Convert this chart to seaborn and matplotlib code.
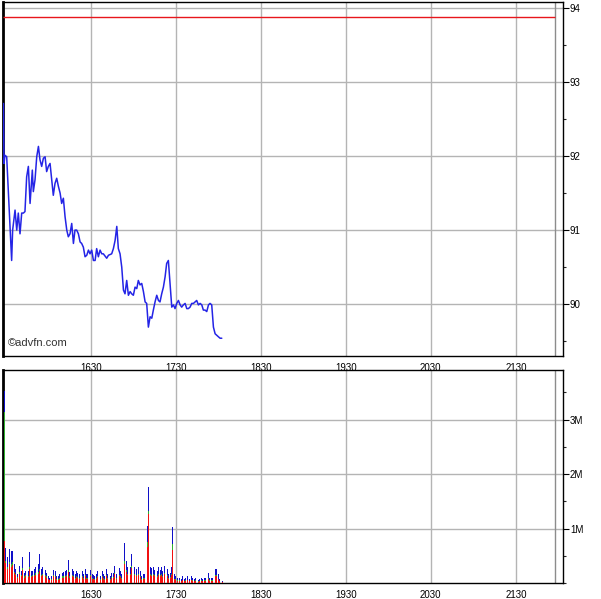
import matplotlib
matplotlib.use("Agg")
import matplotlib.pyplot as plt
import seaborn as sns
from matplotlib.ticker import FixedLocator, MultipleLocator, FuncFormatter

# price trace (minutes after midnight, price)
price_times = [928.4, 928.8, 929.5, 930.7, 931.9, 934.2, 934.9, 936.6, 937.8, 938.9,
               940.1, 941.3, 942.5, 943.6, 944.8, 946.0, 947.2, 948.8, 949.5, 950.7,
               951.9, 953.1, 954.2, 955.4, 956.6, 957.8, 958.9, 960.1, 961.3, 962.5,
               963.6, 964.8, 966.0, 967.2, 968.4, 969.5, 970.7, 971.9, 973.1, 974.2,
               975.4, 976.6, 977.8, 978.9, 980.1, 981.3, 982.5, 983.6, 984.8, 986.0,
               987.2, 988.4, 989.5, 990.7, 991.9, 993.1, 994.2, 995.4, 996.6, 997.8,
               998.9, 1001.3, 1002.5, 1004.8, 1006.0, 1007.2, 1008.4, 1009.5, 1010.7, 1011.9,
               1013.1, 1014.2, 1015.4, 1016.6, 1017.8, 1018.9, 1020.1, 1021.3, 1022.5, 1023.6,
               1024.8, 1026.0, 1027.2, 1028.4, 1029.5, 1030.7, 1031.9, 1033.1, 1034.2, 1035.4,
               1036.6, 1037.8, 1038.9, 1040.1, 1041.3, 1042.5, 1043.6, 1044.8, 1046.0, 1047.2,
               1048.4, 1049.5, 1050.7, 1051.9, 1053.1, 1054.2, 1055.4, 1056.6, 1057.8, 1058.9,
               1060.1, 1061.3, 1062.5, 1063.6, 1064.8, 1066.0, 1067.2, 1068.4, 1069.5, 1070.7,
               1071.9, 1073.1, 1074.2, 1075.4, 1076.6, 1077.8, 1078.9, 1080.1, 1081.3, 1082.5]
prices = [92.71, 91.90, 92.01, 91.99, 91.50, 90.59, 91.00, 91.27, 91.00, 91.23,
          90.95, 91.23, 91.23, 91.25, 91.72, 91.86, 91.36, 91.81, 91.52, 91.68,
          91.99, 92.13, 91.95, 91.86, 91.97, 91.99, 91.79, 91.86, 91.90, 91.68,
          91.47, 91.63, 91.70, 91.59, 91.50, 91.36, 91.43, 91.18, 91.00, 90.91,
          90.95, 91.09, 90.82, 91.00, 91.00, 90.95, 90.84, 90.82, 90.77, 90.64,
          90.66, 90.73, 90.68, 90.73, 90.59, 90.59, 90.75, 90.64, 90.73, 90.68,
          90.68, 90.62, 90.66, 90.68, 90.75, 90.86, 91.05, 90.75, 90.68, 90.50,
          90.19, 90.14, 90.32, 90.12, 90.17, 90.14, 90.12, 90.23, 90.21, 90.32,
          90.26, 90.28, 90.17, 90.03, 90.01, 89.69, 89.83, 89.81, 89.92, 90.03,
          90.12, 90.05, 90.03, 90.14, 90.23, 90.37, 90.55, 90.59, 90.28, 89.96,
          89.99, 89.94, 90.01, 90.05, 89.99, 89.96, 89.99, 90.01, 89.94, 89.94,
          89.96, 90.01, 90.01, 90.03, 90.05, 89.99, 90.01, 89.99, 89.92, 89.92,
          89.90, 89.99, 90.01, 89.99, 89.69, 89.60, 89.58, 89.56, 89.54, 89.54]
ref_price = 93.88

# volume bars (minute, total / red / green in millions)
vol_times = [929, 930, 931, 933, 934, 935, 936, 937, 938, 940,
             941, 942, 943, 944, 946, 947, 948, 949, 950, 951,
             953, 954, 955, 956, 958, 959, 960, 961, 962, 964,
             965, 966, 967, 968, 970, 971, 972, 973, 974, 975,
             977, 978, 979, 980, 981, 982, 984, 985, 986, 987,
             988, 990, 991, 992, 993, 994, 995, 997, 998, 999,
             1000, 1001, 1002, 1004, 1005, 1006, 1007, 1008, 1010, 1011,
             1012, 1014, 1015, 1016, 1018, 1019, 1021, 1022, 1024, 1025,
             1026, 1027, 1028, 1030, 1031, 1032, 1033, 1034, 1035, 1037,
             1038, 1039, 1040, 1041, 1042, 1044, 1045, 1046, 1047, 1048,
             1049, 1050, 1051, 1053, 1054, 1055, 1056, 1057, 1058, 1060,
             1061, 1062, 1063, 1064, 1066, 1067, 1068, 1069, 1070, 1071,
             1073, 1074, 1075, 1076, 1078, 1079, 1080, 1081, 1083]
vol_total = [3.52, .65, .47, .62, .59, .59, .35, .26, .17, .32,
             .22, .47, .19, .22, .22, .56, .22, .22, .26, .29,
             .35, .53, .26, .29, .24, .19, .13, .10, .13, .24,
             .22, .12, .12, .16, .19, .21, .22, .24, .42, .21,
             .26, .22, .16, .22, .19, .16, .22, .16, .26, .16,
             .16, .24, .16, .15, .13, .16, .22, .13, .22, .16,
             .13, .26, .16, .13, .19, .19, .32, .16, .27, .22,
             .16, .74, .41, .29, .29, .53, .29, .26, .29, .22,
             .13, .16, .16, 1.05, 1.76, .29, .27, .29, .24, .22,
             .29, .24, .29, .22, .32, .26, .16, .19, .29, 1.03,
             .16, .13, .10, .10, .07, .12, .07, .10, .12, .07,
             .12, .10, .07, .10, .05, .07, .09, .07, .10, .09,
             .18, .10, .09, .10, .26, .26, .16, .07, .04]
vol_red = [.77, .36, .26, .34, .30, .33, .18, .14, .09, .17,
           .12, .24, .10, .12, .11, .25, .11, .12, .13, .15,
           .17, .22, .13, .14, .12, .10, .07, .05, .06, .12,
           .11, .06, .06, .08, .10, .10, .11, .12, .20, .10,
           .13, .11, .08, .11, .09, .08, .11, .08, .12, .08,
           .08, .12, .08, .07, .06, .08, .11, .06, .11, .08,
           .06, .13, .08, .06, .09, .09, .16, .08, .13, .11,
           .08, .35, .20, .15, .14, .27, .14, .13, .14, .11,
           .06, .08, .08, .66, 1.27, .15, .13, .14, .12, .11,
           .14, .12, .14, .11, .16, .13, .08, .09, .14, .60,
           .07, .06, .04, .04, .03, .05, .03, .04, .05, .03,
           .05, .04, .03, .04, .02, .03, .04, .03, .04, .04,
           .08, .04, .04, .04, .12, .13, .07, .03, .02]
vol_green = [2.37, .05, .04, .05, .05, .05, .03, .02, .02, .03,
             .02, .04, .02, .02, .02, .04, .02, .02, .02, .03,
             .03, .04, .02, .02, .02, .02, .01, .01, .01, .02,
             .02, .01, .01, .01, .02, .02, .02, .02, .04, .02,
             .02, .02, .01, .02, .02, .01, .02, .01, .02, .01,
             .01, .02, .01, .01, .01, .01, .02, .01, .02, .01,
             .01, .02, .01, .01, .02, .02, .03, .01, .02, .02,
             .01, .06, .04, .02, .02, .05, .02, .02, .02, .02,
             .01, .01, .01, .09, .06, .02, .02, .02, .02, .02,
             .02, .02, .02, .02, .03, .02, .01, .02, .02, .12,
             .01, .01, .01, .01, .01, .01, .01, .01, .01, .01,
             .01, .01, .01, .01, .01, .01, .01, .01, .01, .01,
             .01, .01, .01, .01, .02, .02, .01, .01, .00]

x_ticks = [990, 1050, 1110, 1170, 1230, 1290]
session_end = 1318

sns.set_theme(style="white")
plt.rcParams['font.family'] = ['Liberation Sans', 'DejaVu Sans']

fig = plt.figure(figsize=(6.01, 5.99), dpi=100)
ax1 = fig.add_axes([3 / 601, 1 - 356 / 599, 560 / 601, 354 / 599])
ax2 = fig.add_axes([3 / 601, 1 - 583 / 599, 560 / 601, 213 / 599])

grid_col = '#b4b4b4'

# price panel
ax1.hlines(ref_price, 928.1, session_end, color='#e8161c', linewidth=1, zorder=3)
sns.lineplot(x=price_times, y=prices, ax=ax1, color='#2424e6', linewidth=1.1,
             errorbar=None, sort=False, zorder=4)
ax1.set_ylim(89.30, 94.08)
ax1.yaxis.set_major_locator(MultipleLocator(1))
ax1.yaxis.set_minor_locator(MultipleLocator(0.5))
ax1.text(0.008, 0.022, '\u00a9advfn.com', transform=ax1.transAxes, fontsize=8,
         color='#333333', ha='left', va='bottom')

# volume panel: stacked red / green / blue
red_green = [r + g for r, g in zip(vol_red, vol_green)]
for vals, col in [(vol_total, '#1010c8'), (red_green, '#30b030'), (vol_red, '#f01010')]:
    sns.barplot(x=vol_times, y=vals, ax=ax2, native_scale=True, color=col,
                saturation=1, errorbar=None, width=0.7, linewidth=0,
                antialiased=False, zorder=3)
ax2.set_ylim(0, 3.91)
ax2.yaxis.set_major_locator(FixedLocator([1, 2, 3]))
ax2.yaxis.set_minor_locator(MultipleLocator(0.5))
ax2.yaxis.set_major_formatter(FuncFormatter(lambda v, p: f"{int(v)}M"))

for ax in (ax1, ax2):
    ax.set_xlim(928.1, 1323.3)
    ax.xaxis.set_major_locator(FixedLocator(x_ticks))
    ax.xaxis.set_major_formatter(FuncFormatter(lambda v, p: f"{int(v) // 60}{int(v) % 60:02d}"))
    ax.grid(True, which='major', color=grid_col, linewidth=1, zorder=0)
    ax.set_axisbelow(True)
    ax.axvline(session_end, color='#8c8c8c', linewidth=1, zorder=2)
    ax.yaxis.tick_right()
    ax.tick_params(axis='both', which='major', labelsize=7, colors='black',
                   direction='out', length=4, width=0.8, pad=1)
    ax.tick_params(axis='y', which='minor', direction='out', length=2.5, width=0.8, right=True)
    ax.tick_params(axis='x', which='major', length=3, pad=2)
    ax.set_xlabel('')
    ax.set_ylabel('')
    for side, sp in ax.spines.items():
        sp.set_visible(True)
        sp.set_color('black')
        sp.set_linewidth(1)
    ax.spines['left'].set_linewidth(2)

fig.savefig('out.png', dpi=100, facecolor='white')
